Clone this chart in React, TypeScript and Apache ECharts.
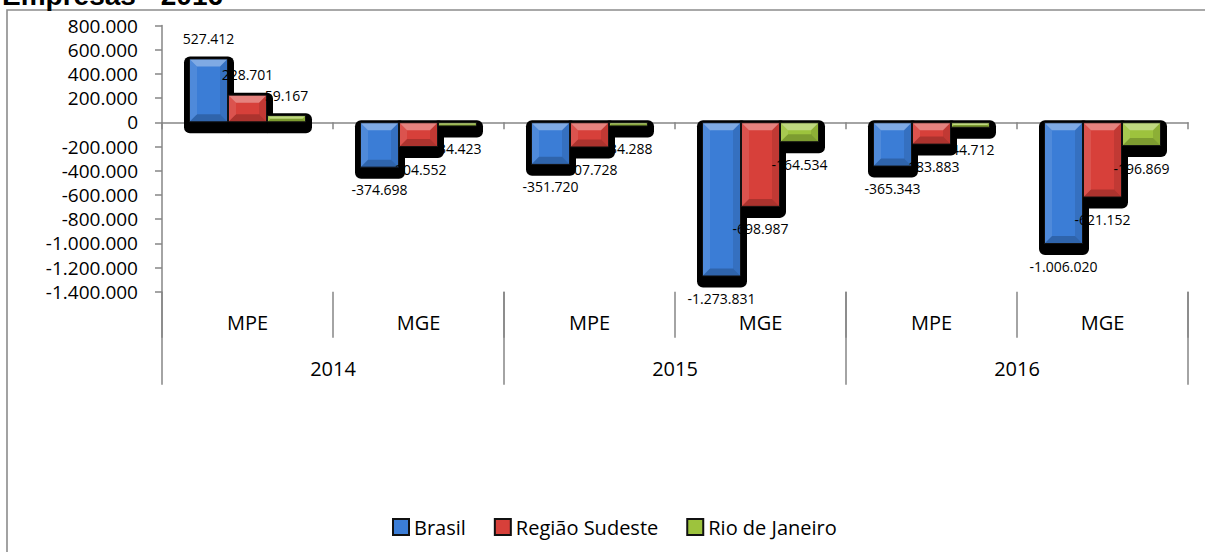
import React, { useEffect, useRef } from "react";
import * as echarts from "echarts";

const categories = ["MPE", "MGE", "MPE", "MGE", "MPE", "MGE"];
const years = ["2014", "2015", "2016"];
const seriesNames = ["Brasil", "Região Sudeste", "Rio de Janeiro"];
const brasil = [527412, -374698, -351720, -1273831, -365343, -1006020];
const sudeste = [228701, -204552, -207728, -698987, -183883, -621152];
const rio = [59167, -34423, -34288, -164534, -44712, -196869];
const yMin = -1400000;
const yMax = 800000;
const yInterval = 200000;
const titleText = "Empresas - 2016";

const colors = ["#3B7DD6", "#D7403A", "#9DC33D"];
const FONT = "Open Sans";
const BAR_W = 39;

function fmt(v: number): string {
  const s = String(Math.abs(Math.round(v))).replace(/\B(?=(\d{3})+(?!\d))/g, ".");
  return (v < 0 ? "-" : "") + s;
}

export default function App() {
  const ref = useRef<HTMLDivElement>(null);
  useEffect(() => {
    if (!ref.current) return;
    const chart = echarts.init(ref.current, undefined, { renderer: "svg" });
    const all = [brasil, sudeste, rio];
    const flat: number[][] = [];
    all.forEach((arr, s) => arr.forEach((v, i) => flat.push([i, v, s])));

    const barGeom = (api: any) => {
      const i = api.value(0);
      const v = api.value(1);
      const s = api.value(2);
      const p0 = api.coord([i, 0]);
      const p1 = api.coord([i, v]);
      const cx = p0[0] + (s - 1) * BAR_W;
      const yTop = Math.min(p0[1], p1[1]);
      const yBot = Math.max(p0[1], p1[1]);
      return { cx, yTop, yBot };
    };

    const option: any = {
      animation: false,
      textStyle: { fontFamily: FONT },
      grid: { left: 162, right: 17, top: 25.5, bottom: 260.3, containLabel: false },
      graphic: [
        {
          type: "rect",
          z: -10,
          silent: true,
          shape: { x: 7, y: 10, width: 1400, height: 800 },
          style: { fill: "none", stroke: "#8c8c8c", lineWidth: 1.6 },
        },
        {
          type: "text",
          silent: true,
          style: {
            text: titleText,
            x: 2,
            y: 9,
            verticalAlign: "bottom",
            font: "bold 28px 'Liberation Sans'",
            fill: "#000",
          },
        },
      ],
      legend: {
        data: seriesNames,
        left: 387,
        top: 512,
        icon: "rect",
        itemWidth: 16,
        itemHeight: 16,
        itemGap: 28,
        textStyle: { fontSize: 20, color: "#000", fontFamily: FONT },
      },
      xAxis: [
        {
          type: "category",
          data: categories,
          position: "bottom",
          axisLine: { onZero: true, lineStyle: { color: "#868686", width: 1.5 } },
          axisTick: { show: true, length: 7, interval: 0, alignWithLabel: false, lineStyle: { color: "#868686", width: 1.5 } },
          axisLabel: { show: false },
          splitLine: { show: false },
        },
        {
          type: "category",
          data: categories,
          position: "bottom",
          axisLine: { show: false, onZero: false },
          axisTick: { show: true, length: 46, interval: 0, lineStyle: { color: "#868686", width: 1.5 } },
          axisLabel: { interval: 0, margin: 21, fontSize: 20, color: "#000", fontFamily: FONT },
          splitLine: { show: false },
        },
        {
          type: "category",
          data: years,
          position: "bottom",
          axisLine: { show: false, onZero: false },
          axisTick: { show: true, length: 93, interval: 0, lineStyle: { color: "#868686", width: 1.5 } },
          axisLabel: { interval: 0, margin: 67, fontSize: 20, color: "#000", fontFamily: FONT },
          splitLine: { show: false },
        },
      ],
      yAxis: {
        type: "value",
        min: yMin,
        max: yMax,
        interval: yInterval,
        axisLine: { show: true, lineStyle: { color: "#868686", width: 1.5 } },
        axisTick: { show: true, length: 7, lineStyle: { color: "#868686", width: 1.5 } },
        splitLine: { show: false },
        axisLabel: {
          fontSize: 19,
          lineHeight: 19,
          color: "#000",
          margin: 24,
          fontFamily: FONT,
          formatter: (v: number) => fmt(v),
        },
      },
      series: [
        {
          type: "custom",
          coordinateSystem: "cartesian2d",
          xAxisIndex: 0,
          yAxisIndex: 0,
          silent: true,
          z: 1,
          encode: { x: 0, y: 1 },
          data: flat,
          renderItem: (params: any, api: any) => {
            const g = barGeom(api);
            return {
              type: "rect",
              shape: { x: g.cx - BAR_W / 2 - 5, y: g.yTop - 2, width: BAR_W + 11, height: g.yBot - g.yTop + 13, r: 6 },
              style: { fill: "#000" },
            };
          },
        },
        ...all.map((arr, s) => ({
          type: "bar",
          name: seriesNames[s],
          xAxisIndex: 0,
          yAxisIndex: 0,
          barWidth: BAR_W,
          barGap: "0%",
          z: 2,
          itemStyle: { color: colors[s], borderColor: "#111", borderWidth: 1 },
          label: {
            show: true,
            fontSize: 14,
            color: "#000",
            fontFamily: FONT,
            formatter: (p: any) => fmt(p.value),
          },
          data: arr.map((v) => ({
            value: v,
            label: { position: v >= 0 ? "top" : "bottom", distance: v >= 0 ? 13 : 15 },
          })),
        })),
        {
          type: "custom",
          coordinateSystem: "cartesian2d",
          xAxisIndex: 0,
          yAxisIndex: 0,
          silent: true,
          z: 3,
          encode: { x: 0, y: 1 },
          data: flat,
          renderItem: (params: any, api: any) => {
            const g = barGeom(api);
            const x0 = g.cx - BAR_W / 2 + 1;
            const x1 = g.cx + BAR_W / 2 - 1;
            const y0 = g.yTop + 1;
            const y1 = g.yBot - 1;
            const h = y1 - y0;
            if (h <= 1) return null;
            const b = Math.min(7, h / 2);
            return {
              type: "group",
              children: [
                { type: "polygon", shape: { points: [[x0, y0], [x1, y0], [x1 - b, y0 + b], [x0 + b, y0 + b]] }, style: { fill: "rgba(255,255,255,0.35)" } },
                { type: "polygon", shape: { points: [[x0, y1], [x1, y1], [x1 - b, y1 - b], [x0 + b, y1 - b]] }, style: { fill: "rgba(0,0,0,0.2)" } },
                { type: "polygon", shape: { points: [[x0, y0], [x0 + b, y0 + b], [x0 + b, y1 - b], [x0, y1]] }, style: { fill: "rgba(255,255,255,0.1)" } },
                { type: "polygon", shape: { points: [[x1, y0], [x1 - b, y0 + b], [x1 - b, y1 - b], [x1, y1]] }, style: { fill: "rgba(0,0,0,0.1)" } },
              ],
            };
          },
        },
      ],
    };
    chart.setOption(option);
    return () => chart.dispose();
  }, []);
  return (
    <div
      ref={ref}
      style={{ position: "absolute", left: 0, top: 0, width: 1205, height: 552, background: "#fff" }}
    />
  );
}
